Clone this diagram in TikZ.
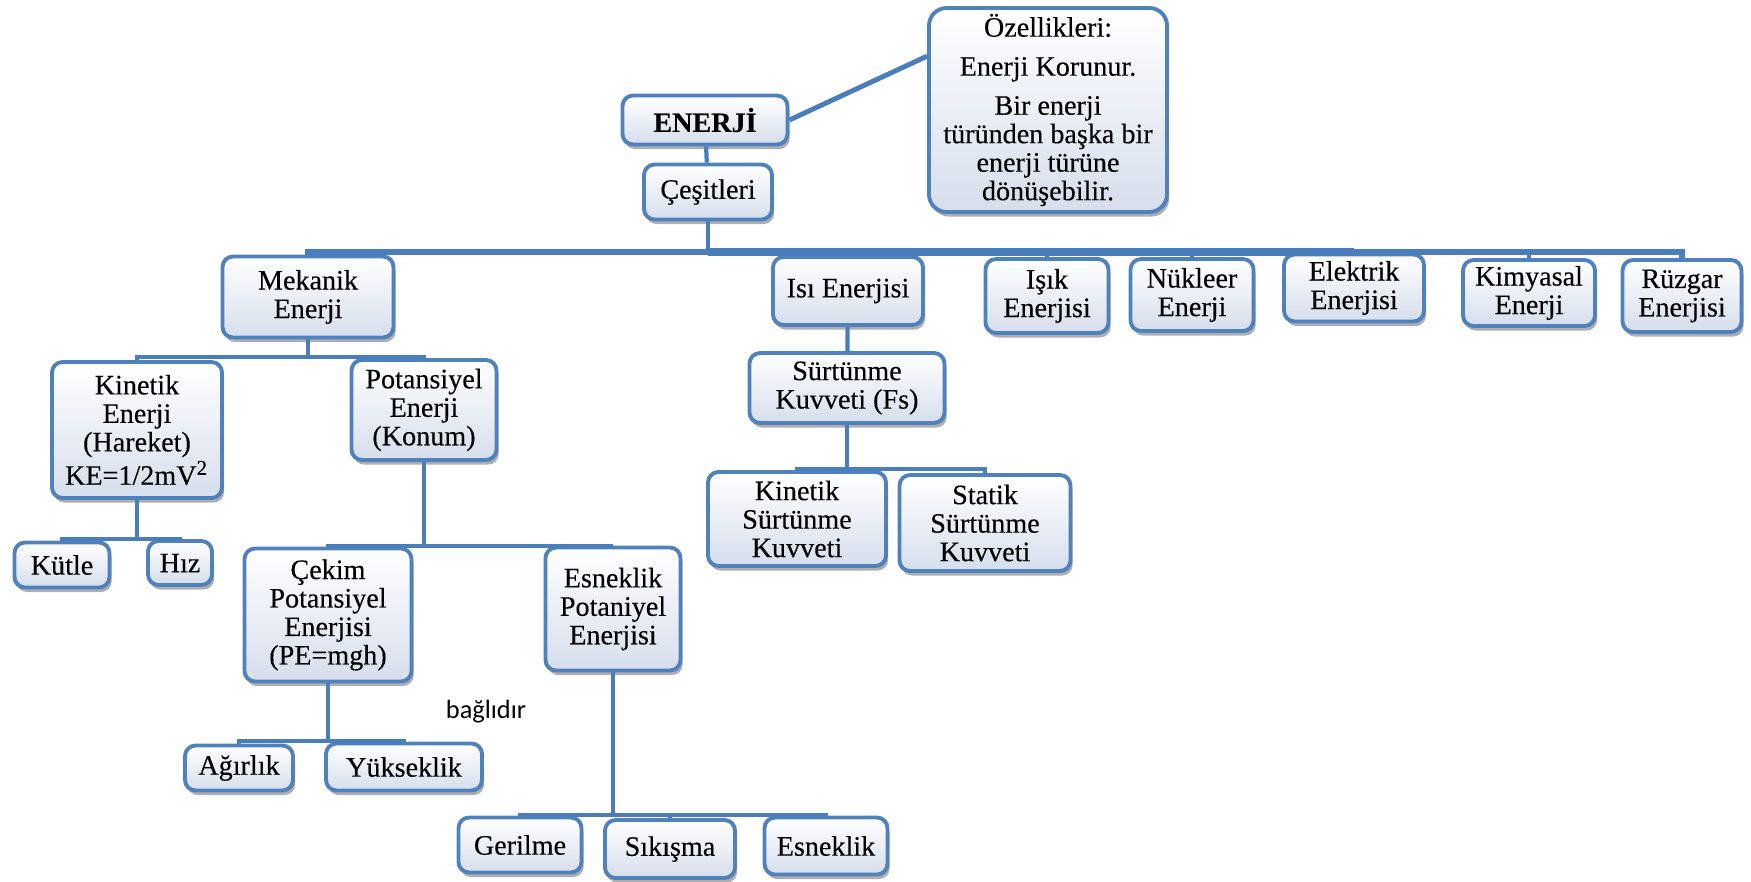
\documentclass[tikz,border=0pt]{standalone}
\usepackage{fontspec}
\setmainfont{Liberation Serif}
\newfontfamily\boxfont{Liberation Serif}[FakeBold=0.25]
\newfontfamily\notefont{Carlito}
\usetikzlibrary{shadows}

\definecolor{boxline}{RGB}{79,129,189}
\definecolor{boxfill}{RGB}{214,222,236}
\definecolor{linkblue}{RGB}{74,126,187}

\begin{document}
\begin{tikzpicture}[
  x=0.01cm, y=-0.01cm,
  box/.style = {draw=boxline, line width=1.1pt, rounded corners=3pt,
    top color=white, bottom color=boxfill, align=center, inner sep=1pt,
    font=\boxfont\fontsize{8}{8.1}\selectfont,
    drop shadow={shadow xshift=0.6pt, shadow yshift=-1.3pt, opacity=0.45, fill=black!70}},
  wh/.style 2 args = {minimum width=#1*0.01cm, minimum height=#2*0.01cm},
  link/.style = {draw=linkblue, line width=1.2pt},
  bar/.style = {draw=linkblue, line width=2.2pt}
]
  \useasboundingbox (0,0) rectangle (1751,881);

  % top: root and its note
  \node[box, wh={165}{49}] (enerji) at (705,120) {\textbf{ENERJİ}};
  \node[box, wh={238}{204}, rounded corners=5pt] (ozel) at (1048,110)
    {Özellikleri:\\[3pt] Enerji Korunur.\\[3pt] Bir enerji\\ türünden başka bir\\ enerji türüne\\ dönüşebilir.};
  \node[box, wh={128}{55}] (ces) at (708,192) {Çeşitleri};

  % energy types
  \node[box, wh={171}{81}] (mek) at (308,297) {Mekanik\\ Enerji};
  \node[box, wh={150}{68}] (isi) at (848,291) {Isı Enerjisi};
  \node[box, wh={123}{74}] (isik) at (1047,296) {Işık\\ Enerjisi};
  \node[box, wh={123}{72}] (nuk) at (1192,295) {Nükleer\\ Enerji};
  \node[box, wh={140}{67}] (elek) at (1354,288) {Elektrik\\ Enerjisi};
  \node[box, wh={132}{66}] (kim) at (1529,293) {Kimyasal\\ Enerji};
  \node[box, wh={119}{72}] (ruz) at (1682,296) {Rüzgar\\ Enerjisi};

  % mechanical branch
  \node[box, wh={170}{136}] (kin) at (137,430) {Kinetik\\ Enerji\\ (Hareket)\\ KE=1/2mV\textsuperscript{2}};
  \node[box, wh={145}{100}] (pot) at (424,410) {Potansiyel\\ Enerji\\ (Konum)};
  \node[box, wh={95}{45}] (kut) at (62,565) {Kütle};
  \node[box, wh={64}{44}] (hiz) at (180,563) {Hız};
  \node[box, wh={167}{133}] (cek) at (328,615) {Çekim\\ Potansiyel\\ Enerjisi\\ (PE=mgh)};
  \node[box, wh={135}{123}] (esn) at (613,609) {Esneklik\\ Potaniyel\\ Enerjisi};
  \node[box, wh={108}{45}] (agi) at (239,768) {Ağırlık};
  \node[box, wh={156}{47}] (yuk) at (404,767) {Yükseklik};
  \node[box, wh={123}{55}] (ger) at (520,845) {Gerilme};
  \node[box, wh={130}{58}] (sik) at (670,849) {Sıkışma};
  \node[box, wh={123}{57}] (esk) at (826,846) {Esneklik};
  \node[font=\notefont\fontsize{7.5}{9}\selectfont] (bag) at (486,712) {bağlıdır};

  % heat branch
  \node[box, wh={195}{70}] (sur) at (847,388) {Sürtünme\\ Kuvveti (Fs)};
  \node[box, wh={178}{94}] (ksur) at (797,519) {Kinetik\\ Sürtünme\\ Kuvveti};
  \node[box, wh={171}{96}] (ssur) at (985,523) {Statik\\ Sürtünme\\ Kuvveti};

  % bar heights
  \coordinate (b0) at (0,252);
  \coordinate (b1) at (0,357);
  \coordinate (b2) at (0,539);
  \coordinate (b3) at (0,546);
  \coordinate (b4) at (0,741);
  \coordinate (b5) at (0,815);
  \coordinate (b6) at (0,469);

  % connectors
  \draw[link, line width=1.4pt] (enerji.east) -- (ozel.156);
  \draw[link] (enerji) -- (ces);
  \draw[link] (ces) -- (ces |- b0);
  \draw[link, line width=1.5pt] (mek.north) -- (mek.north |- b0) -- (ruz.north |- b0) -- (ruz.north);
  \draw[bar] (ces |- b0) -- (elek.north |- b0);
  \foreach \n in {isi,isik,nuk,elek,kim}
    \draw[link] (\n.north |- b0) -- (\n.north);

  \draw[link] (mek) -- (mek |- b1);
  \draw[link] (kin.north) -- (kin.north |- b1) -- (pot.north |- b1) -- (pot.north);

  \draw[link] (kin) -- (kin |- b2);
  \draw[link] (kut.north) -- (kut.north |- b2) -- (hiz.north |- b2) -- (hiz.north);

  \draw[link] (pot) -- (pot |- b3);
  \draw[link] (cek.north) -- (cek.north |- b3) -- (esn.north |- b3) -- (esn.north);

  \draw[link] (cek) -- (cek |- b4);
  \draw[link] (agi.north) -- (agi.north |- b4) -- (yuk.north |- b4) -- (yuk.north);

  \draw[link] (esn) -- (esn |- b5);
  \draw[link] (ger.north) -- (ger.north |- b5) -- (esk.north |- b5) -- (esk.north);
  \draw[link] (sik.north |- b5) -- (sik.north);

  \draw[link] (isi) -- (sur);
  \draw[link] (sur) -- (sur |- b6);
  \draw[link] (ksur.north) -- (ksur.north |- b6) -- (ssur.north |- b6) -- (ssur.north);
\end{tikzpicture}
\end{document}
